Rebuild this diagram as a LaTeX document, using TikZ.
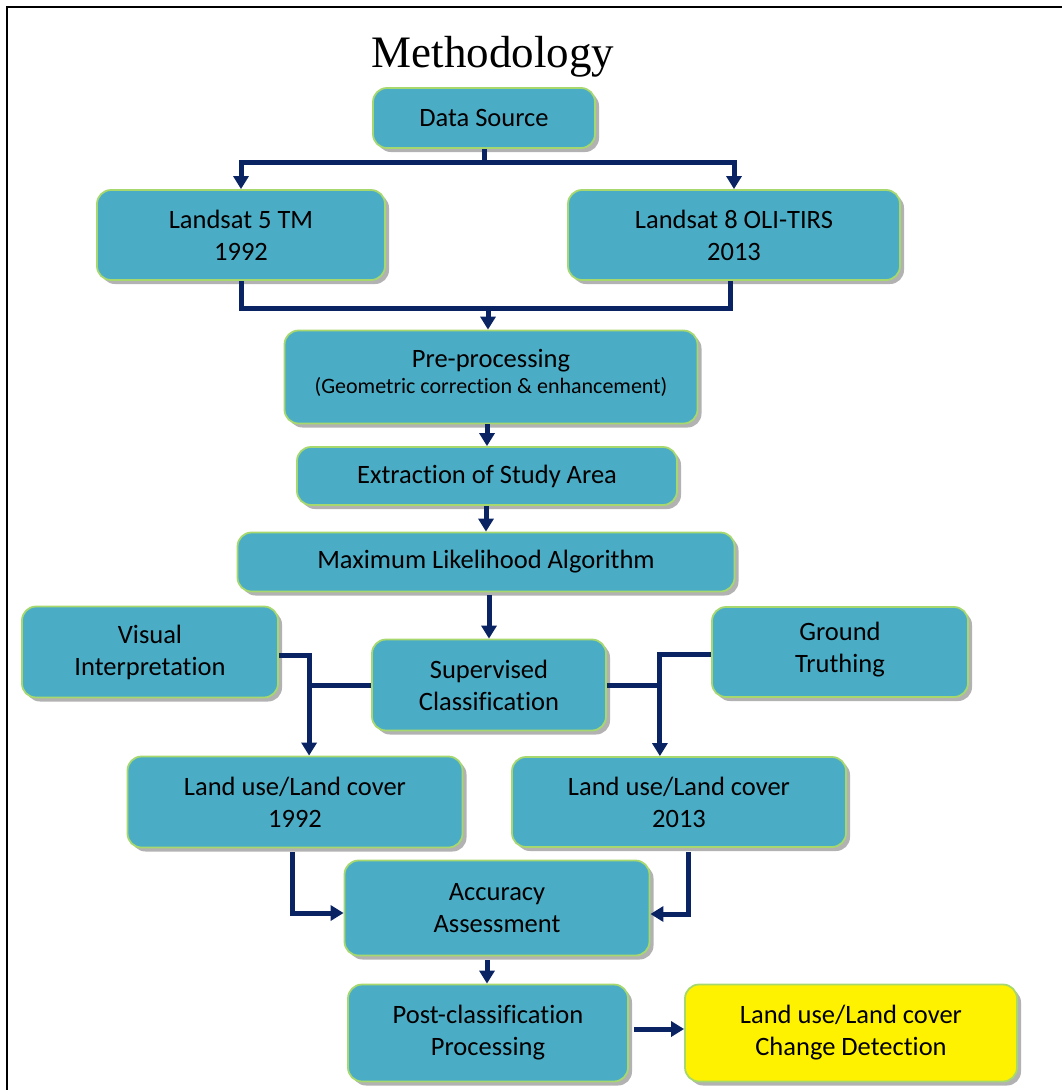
\documentclass[tikz,border=0pt]{standalone}
\usepackage{fontspec}
\setmainfont[Ligatures=NoCommon]{Carlito}
\newfontfamily\titlefont{Liberation Serif}
\usetikzlibrary{arrows.meta,shadows}
\definecolor{boxblue}{HTML}{4BACC6}
\definecolor{boxedge}{HTML}{A6D86E}
\definecolor{navy}{HTML}{0A2463}

\begin{document}
\begin{tikzpicture}[x=1pt,y=-1pt,line cap=butt,line join=miter,
  box/.style={draw=boxedge,line width=1.8pt,fill=boxblue,rounded corners=14pt,
    align=center,inner sep=0pt,font=\fontsize{26.5}{32}\selectfont,
    drop shadow={shadow xshift=4pt,shadow yshift=-4pt,fill=black!30,opacity=1}},
  yelbox/.style={box,fill=yellow},
  line/.style={draw=navy,line width=5pt},
  arr/.style={line,-{Triangle[width=15pt,length=13pt]}}]
\useasboundingbox (0,0) rectangle (1062,1090);
\draw[line width=2.5pt] (7,1090) -- (7,7) -- (1062,7);
\node[font=\titlefont\fontsize{45}{50}\selectfont] (title) at (493,57) {Methodology};
\node[box,minimum width=222pt,minimum height=60pt] (src) at (484,118) {Data Source};
\node[box,minimum width=288pt,minimum height=90pt] (ls5) at (241,235) {Landsat 5 TM\\1992};
\node[box,minimum width=332pt,minimum height=90pt] (ls8) at (734,235) {Landsat 8 OLI-TIRS\\2013};
\node[box,minimum width=413pt,minimum height=93pt] (pre) at (491,377)
  {Pre-processing\\[-6pt]{\fontsize{22}{26}\selectfont (Geometric correction \& enhancement)}\\[-20pt]};
\node[box,minimum width=380pt,minimum height=58pt] (ext) at (487,476) {Extraction of Study Area};
\node[box,minimum width=497pt,minimum height=59pt] (ml) at (486,562) {Maximum Likelihood Algorithm};
\node[box,minimum width=256pt,minimum height=91pt] (vis) at (150,652) {Visual\\Interpretation};
\node[box,minimum width=234pt,minimum height=91pt] (sup) at (489,685) {Supervised\\Classification};
\node[box,minimum width=256pt,minimum height=90pt] (gt) at (840,652) {Ground\\Truthing\\[-22pt]};
\node[box,minimum width=335pt,minimum height=91pt] (lu92) at (295,802) {Land use/Land cover\\1992};
\node[box,minimum width=334pt,minimum height=90pt] (lu13) at (679,802) {Land use/Land cover\\2013};
\node[box,minimum width=305pt,minimum height=95pt] (acc) at (497,908) {Accuracy\\Assessment};
\node[box,minimum width=280pt,minimum height=97pt] (post) at (488,1033) {Post-classification\\Processing};
\node[yelbox,minimum width=332pt,minimum height=97pt] (chg) at (851,1033) {Land use/Land cover\\Change Detection};
% data source split
\coordinate (split) at (484,162);
\draw[line] (src.south) -- (split);
\draw[arr] (split) -| (ls5.north);
\draw[arr] (split) -| (ls8.north);
% merge into pre-processing
\coordinate (merge) at (488,308);
\draw[line] (ls5.south) |- (merge);
\draw[line] ([xshift=-4pt]ls8.south) |- (merge);
\draw[arr] (merge) -- (merge |- pre.north);
\draw[arr] (pre.south -| ext.north) -- (ext.north);
\draw[arr] (ext.south -| ml.north) -- (ml.north);
\draw[arr] ([yshift=-3pt]ml.south -| sup.north) -- (sup.north);
% classification branches
\draw[line] (sup.west) -- ++(-62,0) coordinate (jl);
\draw[line] ([yshift=-3pt]vis.east) -| (jl);
\draw[arr] (jl) -- (jl |- lu92.north);
\draw[line] (sup.east) -- ++(53,0) coordinate (jr);
\draw[line] ([yshift=-2pt]gt.west) -| (jr);
\draw[arr] (jr) -- (jr |- lu13.north);
% accuracy
\draw[arr] ([xshift=-3pt,yshift=-4pt]lu92.south) |- ([yshift=-5pt]acc.west);
\draw[arr] ([xshift=9pt,yshift=-4pt]lu13.south) |- ([yshift=-6pt]acc.east);
\draw[arr] ([xshift=-10pt,yshift=-4pt]acc.south) -- ([xshift=-1pt]post.north);
\draw[arr] ([xshift=5pt,yshift=4pt]post.east) -- ([yshift=4pt]chg.west);
\end{tikzpicture}
\end{document}
